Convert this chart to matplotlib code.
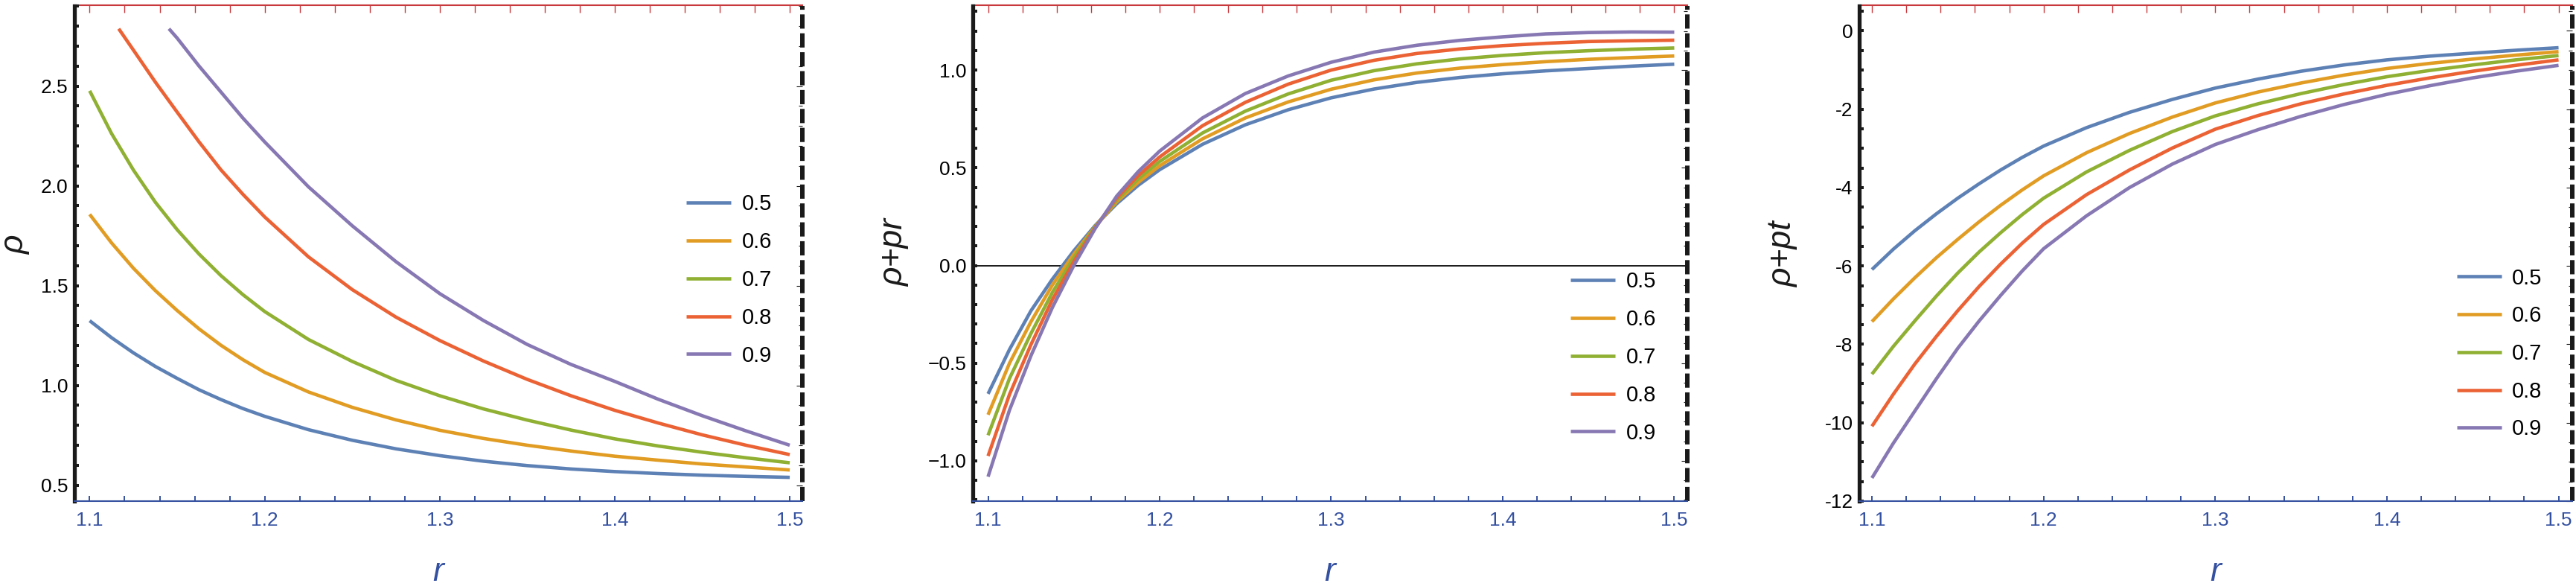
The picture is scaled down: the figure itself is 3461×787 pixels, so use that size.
import matplotlib
matplotlib.use("Agg")
import matplotlib.pyplot as plt
from matplotlib.ticker import MultipleLocator

plt.rcParams['font.family'] = ['Liberation Sans', 'DejaVu Sans']

# legend values and Mathematica-like default colours
params = ['0.5', '0.6', '0.7', '0.8', '0.9']
colors = ['#5E81B5', '#E19C24', '#8FB032', '#EB6235', '#8778B3']
axis_blue = '#3450A0'
top_red = '#C8383C'

# common r samples
r_all = [1.1, 1.1125, 1.125, 1.1375, 1.15, 1.1625, 1.175, 1.1875, 1.2, 1.225, 1.25,
         1.275, 1.3, 1.325, 1.35, 1.375, 1.4, 1.425, 1.45, 1.475, 1.5]

# ---- panel 1: rho ----
rho_05 = [1.324, 1.239, 1.163, 1.095, 1.035, 0.978, 0.929, 0.884, 0.845, 0.778, 0.725,
          0.682, 0.648, 0.620, 0.598, 0.581, 0.568, 0.558, 0.550, 0.544, 0.539]
rho_06 = [1.857, 1.714, 1.587, 1.475, 1.375, 1.283, 1.201, 1.129, 1.065, 0.967, 0.890,
          0.827, 0.775, 0.734, 0.700, 0.671, 0.645, 0.625, 0.606, 0.591, 0.576]
rho_07 = [2.476, 2.262, 2.079, 1.918, 1.780, 1.658, 1.550, 1.455, 1.370, 1.230, 1.120,
          1.025, 0.948, 0.882, 0.826, 0.776, 0.732, 0.696, 0.665, 0.637, 0.612]
r_rho_08 = [1.1166, 1.125, 1.1375, 1.15, 1.1625, 1.175, 1.1875, 1.2, 1.225, 1.25,
            1.275, 1.3, 1.325, 1.35, 1.375, 1.4, 1.425, 1.45, 1.475, 1.5]
rho_08 = [2.787, 2.680, 2.520, 2.369, 2.220, 2.080, 1.958, 1.844, 1.644, 1.480,
          1.342, 1.225, 1.122, 1.030, 0.948, 0.875, 0.811, 0.752, 0.700, 0.653]
r_rho_09 = [1.1453, 1.15, 1.1625, 1.175, 1.1875, 1.2, 1.225, 1.25, 1.275, 1.3,
            1.325, 1.35, 1.375, 1.4, 1.425, 1.45, 1.475, 1.5]
rho_09 = [2.787, 2.740, 2.600, 2.470, 2.340, 2.220, 1.995, 1.800, 1.620, 1.460,
          1.325, 1.205, 1.105, 1.020, 0.930, 0.848, 0.772, 0.700]

# ---- panel 2: rho + pr ----
pr_05 = [-0.657, -0.430, -0.232, -0.070, 0.075, 0.205, 0.316, 0.410, 0.490, 0.620, 0.720,
         0.797, 0.858, 0.903, 0.937, 0.962, 0.981, 0.996, 1.008, 1.020, 1.030]
pr_06 = [-0.764, -0.500, -0.288, -0.100, 0.058, 0.200, 0.326, 0.425, 0.510, 0.648, 0.755,
         0.837, 0.902, 0.950, 0.985, 1.010, 1.028, 1.043, 1.055, 1.064, 1.072]
pr_07 = [-0.869, -0.578, -0.348, -0.138, 0.040, 0.200, 0.335, 0.443, 0.532, 0.678, 0.790,
         0.878, 0.948, 0.997, 1.032, 1.057, 1.075, 1.089, 1.099, 1.107, 1.113]
pr_08 = [-0.975, -0.660, -0.405, -0.175, 0.020, 0.195, 0.345, 0.460, 0.555, 0.715, 0.835,
         0.928, 1.000, 1.050, 1.085, 1.108, 1.125, 1.137, 1.146, 1.150, 1.153]
pr_09 = [-1.081, -0.740, -0.462, -0.215, 0.000, 0.190, 0.355, 0.480, 0.585, 0.755, 0.880,
         0.970, 1.040, 1.092, 1.127, 1.152, 1.170, 1.185, 1.192, 1.195, 1.194]

# ---- panel 3: rho + pt ----
pt_05 = [-6.09, -5.57, -5.10, -4.67, -4.27, -3.90, -3.55, -3.23, -2.94, -2.47, -2.08,
         -1.75, -1.46, -1.23, -1.03, -0.87, -0.74, -0.645, -0.57, -0.495, -0.43]
pt_06 = [-7.42, -6.84, -6.30, -5.79, -5.32, -4.87, -4.45, -4.06, -3.70, -3.11, -2.62,
         -2.20, -1.84, -1.56, -1.33, -1.13, -0.96, -0.83, -0.72, -0.62, -0.53]
pt_07 = [-8.76, -8.05, -7.40, -6.77, -6.18, -5.64, -5.15, -4.69, -4.27, -3.60, -3.05,
         -2.57, -2.17, -1.86, -1.60, -1.37, -1.17, -1.01, -0.87, -0.74, -0.63]
pt_08 = [-10.09, -9.27, -8.50, -7.80, -7.14, -6.52, -5.95, -5.42, -4.94, -4.18, -3.55,
         -2.99, -2.51, -2.16, -1.86, -1.61, -1.39, -1.20, -1.03, -0.88, -0.74]
pt_09 = [-11.41, -10.52, -9.70, -8.88, -8.10, -7.40, -6.75, -6.13, -5.56, -4.72, -4.00,
         -3.40, -2.90, -2.52, -2.18, -1.88, -1.62, -1.40, -1.20, -1.03, -0.88]

W, H = 3461, 787
fig = plt.figure(figsize=(W / 100, H / 100), dpi=100)


def px_axes(left, right, top, bottom):
    return fig.add_axes([left / W, 1 - bottom / H, (right - left) / W, (bottom - top) / H])


def style_axes(ax, xlim, ylim, ymajor, yminor):
    ax.set_xlim(xlim)
    ax.set_ylim(ylim)
    ax.xaxis.set_major_locator(MultipleLocator(0.1))
    ax.xaxis.set_minor_locator(MultipleLocator(0.02))
    ax.yaxis.set_major_locator(MultipleLocator(ymajor))
    ax.yaxis.set_minor_locator(MultipleLocator(yminor))
    ax.spines['top'].set_visible(False)
    ax.spines['right'].set_visible(False)
    ax.spines['left'].set_linewidth(3.8)
    ax.spines['left'].set_color('#1a1a1a')
    ax.spines['bottom'].set_linewidth(1.5)
    ax.spines['bottom'].set_color(axis_blue)
    ax.tick_params(axis='y', which='both', direction='in', length=4.5, width=2.9,
                   color='#1a1a1a', labelsize=19, pad=6, right=False)
    ax.tick_params(axis='x', which='both', direction='in', length=5, width=1.4,
                   color=axis_blue, labelcolor=axis_blue, labelsize=19, pad=10, top=False)
    ax.xaxis.set_major_formatter(lambda v, p: '%.1f' % v)

    top = ax.secondary_xaxis('top')
    top.xaxis.set_major_locator(MultipleLocator(0.02))
    top.spines['top'].set_color(top_red)
    top.spines['top'].set_linewidth(1.5)
    top.tick_params(axis='x', which='both', direction='in', length=7, width=1,
                    color=top_red, labeltop=False)

    right = ax.secondary_yaxis('right')
    right.yaxis.set_major_locator(MultipleLocator(ymajor))
    right.yaxis.set_minor_locator(MultipleLocator(yminor))
    right.spines['right'].set_color('#1a1a1a')
    right.spines['right'].set_linewidth(4.3)
    right.spines['right'].set_linestyle((0, (3.2, 1.05)))
    right.spines['right'].set_capstyle('butt')
    right.tick_params(axis='y', which='major', direction='in', length=6, width=0.8,
                      color='#1a1a1a', labelright=False)
    right.tick_params(axis='y', which='minor', direction='in', length=3.6, width=0.8,
                      color='#1a1a1a')


def add_legend(ax, lines, x_px, y_px):
    ax.legend(lines, params, loc='center left', bbox_to_anchor=(x_px / W, 1 - y_px / H),
              bbox_transform=fig.transFigure, frameon=False, fontsize=21,
              handlelength=2.05, handletextpad=0.5, labelspacing=0.78,
              borderpad=0, borderaxespad=0)


def draw_panel(ax, series):
    lines = []
    for (xs, ys), c in zip(series, colors):
        ln, = ax.plot(xs, ys, color=c, lw=3.3, solid_capstyle='butt')
        lines.append(ln)
    return lines


# panel 1
ax1 = px_axes(100, 1078, 7.5, 673)
lines1 = draw_panel(ax1, [(r_all, rho_05), (r_all, rho_06), (r_all, rho_07),
                          (r_rho_08, rho_08), (r_rho_09, rho_09)])
style_axes(ax1, (1.0913, 1.5072), (0.42, 2.903), 0.5, 0.1)
add_legend(ax1, lines1, 922, 376)

# panel 2
ax2 = px_axes(1307, 2267, 7.5, 673)
ax2.axhline(0, color='#1a1a1a', lw=1.4, zorder=1)
lines2 = draw_panel(ax2, [(r_all, s) for s in [pr_05, pr_06, pr_07, pr_08, pr_09]])
style_axes(ax2, (1.0911, 1.5076), (-1.206, 1.33), 0.5, 0.1)
add_legend(ax2, lines2, 2110, 480)

# panel 3
ax3 = px_axes(2498, 3456, 7.5, 673)
lines3 = draw_panel(ax3, [(r_all, s) for s in [pt_05, pt_06, pt_07, pt_08, pt_09]])
style_axes(ax3, (1.0926, 1.508), (-12.0, 0.645), 2, 0.5)
ax3.yaxis.set_major_formatter(lambda v, p: '%d' % round(v))
add_legend(ax3, lines3, 3301, 475)

# axis labels
label_kw = dict(fontsize=32, style='italic', ha='center', va='center')
fig.text(21 / W, 1 - 329 / H, 'ρ', rotation=90, color='#1a1a1a', **label_kw)
fig.text(1202 / W, 1 - 339 / H, 'ρ+pr', rotation=90, color='#1a1a1a', **label_kw)
fig.text(2396 / W, 1 - 342 / H, 'ρ+pt', rotation=90, color='#1a1a1a', **label_kw)
for cx in [589, 1787, 2977]:
    fig.text(cx / W, 1 - 769 / H, 'r', color=axis_blue, **label_kw)

fig.savefig('out.png', dpi=100)
